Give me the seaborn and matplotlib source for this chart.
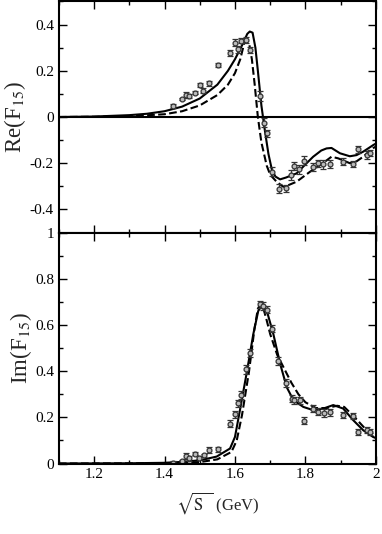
"""F15 partial wave amplitude: Re and Im vs sqrt(s)."""

import matplotlib
matplotlib.use("Agg")
import matplotlib.pyplot as plt
import numpy as np
import pandas as pd
import seaborn as sns
from matplotlib.ticker import MultipleLocator, FuncFormatter

# data points (shared energies)
w_data = [1.425, 1.449, 1.461, 1.470, 1.487, 1.501, 1.510, 1.527, 1.551, 1.586,
          1.600, 1.610, 1.616, 1.631, 1.644, 1.671, 1.682, 1.690, 1.704, 1.724,
          1.745, 1.760, 1.767, 1.783, 1.797, 1.822, 1.836, 1.851, 1.870, 1.907,
          1.934, 1.950, 1.974, 1.983]
re_data = [0.048, 0.078, 0.095, 0.091, 0.105, 0.139, 0.114, 0.146, 0.225, 0.276,
           0.322, 0.293, 0.331, 0.334, 0.290, 0.091, -0.025, -0.071, -0.237, -0.310,
           -0.309, -0.251, -0.212, -0.227, -0.189, -0.215, -0.200, -0.205, -0.204, -0.193,
           -0.204, -0.140, -0.165, -0.155]
re_err = [0.008, 0.006, 0.012, 0.008, 0.006, 0.008, 0.010, 0.012, 0.008, 0.014,
          0.014, 0.014, 0.012, 0.012, 0.014, 0.022, 0.020, 0.016, 0.020, 0.018,
          0.016, 0.020, 0.018, 0.020, 0.020, 0.018, 0.016, 0.018, 0.018, 0.014,
          0.014, 0.014, 0.016, 0.014]
w_im = [1.425, 1.449, 1.461, 1.470, 1.487, 1.499, 1.512, 1.527, 1.551, 1.586,
        1.600, 1.610, 1.618, 1.631, 1.643, 1.671, 1.680, 1.690, 1.705, 1.723,
        1.745, 1.762, 1.768, 1.785, 1.797, 1.822, 1.836, 1.853, 1.870, 1.907,
        1.934, 1.950, 1.974, 1.983]
im_data = [0.004, 0.010, 0.032, 0.023, 0.043, 0.026, 0.035, 0.058, 0.061, 0.173,
           0.213, 0.260, 0.296, 0.407, 0.479, 0.689, 0.681, 0.666, 0.584, 0.444,
           0.349, 0.281, 0.274, 0.274, 0.185, 0.238, 0.224, 0.219, 0.222, 0.209,
           0.205, 0.137, 0.144, 0.137]
im_err = [0.006, 0.006, 0.014, 0.010, 0.008, 0.008, 0.008, 0.012, 0.010, 0.016,
          0.016, 0.016, 0.018, 0.018, 0.018, 0.016, 0.016, 0.016, 0.016, 0.016,
          0.016, 0.016, 0.016, 0.016, 0.016, 0.016, 0.016, 0.016, 0.016, 0.014,
          0.014, 0.014, 0.014, 0.014]

# model curves
w_re_solid = [1.10, 1.20, 1.30, 1.35, 1.40, 1.45, 1.50, 1.55, 1.58, 1.60, 1.62, 1.635,
              1.642, 1.650, 1.658, 1.665, 1.675, 1.685, 1.695, 1.705, 1.715, 1.728,
              1.745, 1.775, 1.80, 1.822, 1.845, 1.860, 1.874, 1.898, 1.926, 1.945,
              1.964, 1.993, 2.0]
re_solid = [0.0, 0.002, 0.008, 0.014, 0.025, 0.045, 0.08, 0.14, 0.20, 0.25, 0.31, 0.36,
            0.37, 0.365, 0.30, 0.20, 0.05, -0.06, -0.16, -0.23, -0.258, -0.27,
            -0.262, -0.244, -0.205, -0.172, -0.145, -0.136, -0.134, -0.157, -0.170, -0.165,
            -0.150, -0.121, -0.115]
w_re_dash = [1.10, 1.20, 1.30, 1.40, 1.45, 1.50, 1.55, 1.58, 1.60, 1.615, 1.628,
             1.640, 1.648, 1.656, 1.665, 1.675, 1.69, 1.70, 1.718, 1.737, 1.747,
             1.775, 1.813, 1.845, 1.874, 1.893, 1.926, 1.945, 1.964, 1.992, 2.0]
re_dash = [0.0, 0.001, 0.003, 0.012, 0.025, 0.05, 0.095, 0.14, 0.19, 0.25, 0.33,
           0.32, 0.25, 0.14, 0.0, -0.11, -0.21, -0.25, -0.28, -0.302, -0.298,
           -0.28, -0.237, -0.205, -0.172, -0.179, -0.200, -0.192, -0.172, -0.135, -0.128]
w_im_solid = [1.10, 1.30, 1.397, 1.45, 1.501, 1.548, 1.586, 1.600, 1.614, 1.633,
              1.652, 1.666, 1.676, 1.690, 1.709, 1.728, 1.747, 1.766, 1.794, 1.822,
              1.851, 1.879, 1.907, 1.936, 1.964, 1.992, 2.0]
im_solid = [0.0, 0.001, 0.003, 0.007, 0.014, 0.03, 0.065, 0.115, 0.23, 0.39,
            0.56, 0.66, 0.685, 0.663, 0.56, 0.433, 0.33, 0.274, 0.245, 0.231,
            0.238, 0.253, 0.238, 0.187, 0.144, 0.115, 0.11]
w_im_dash = [1.10, 1.40, 1.50, 1.55, 1.59, 1.605, 1.62, 1.64, 1.655, 1.665,
             1.672, 1.680, 1.690, 1.70, 1.72, 1.74, 1.76, 1.78, 1.80, 1.83,
             1.86, 1.89, 1.91, 1.94, 1.97, 2.0]
im_dash = [0.0, 0.001, 0.006, 0.018, 0.05, 0.10, 0.21, 0.40, 0.58, 0.67,
           0.69, 0.675, 0.62, 0.56, 0.47, 0.41, 0.35, 0.30, 0.265, 0.24,
           0.24, 0.25, 0.245, 0.20, 0.15, 0.12]

sns.set_style("ticks")
plt.rcParams["font.family"] = ["Liberation Serif", "DejaVu Serif"]
plt.rcParams["mathtext.fontset"] = "stix"
plt.rcParams["axes.unicode_minus"] = False


def fmt(v, _):
    return "0" if abs(v) < 1e-9 else f"{v:g}"


def style_axis(ax, ylo, yhi, yticks):
    ax.set_xlim(1.1, 2.0)
    ax.set_ylim(ylo, yhi)
    ax.set_yticks(yticks)
    ax.xaxis.set_major_locator(MultipleLocator(0.2))
    ax.xaxis.set_minor_locator(MultipleLocator(0.1))
    ax.yaxis.set_minor_locator(MultipleLocator(0.1))
    ax.yaxis.set_major_formatter(FuncFormatter(fmt))
    ax.xaxis.set_major_formatter(FuncFormatter(fmt))
    ax.tick_params(which="both", direction="in", top=True, right=True, labelsize=11,
                   width=1.0, colors="black")
    ax.tick_params(which="major", length=6)
    ax.tick_params(which="minor", length=3)
    for sp in ax.spines.values():
        sp.set_linewidth(1.5)
        sp.set_color("black")
    ax.set_xlabel("")


fig = plt.figure(figsize=(3.82, 5.34), dpi=100)
ax_re = fig.add_axes([0.154, 0.5646, 0.830, 0.4326])
ax_im = fig.add_axes([0.154, 0.132, 0.830, 0.4326])

curves = [
    (ax_re, w_re_solid, re_solid, "-"), (ax_re, w_re_dash, re_dash, "--"),
    (ax_im, w_im_solid, im_solid, "-"), (ax_im, w_im_dash, im_dash, "--"),
]
for ax, xs, ys, ls in curves:
    df = pd.DataFrame({"w": xs, "v": ys})
    sns.lineplot(data=df, x="w", y="v", ax=ax, color="black", lw=1.5,
                 linestyle=ls, sort=True)

ax_re.axhline(0, color="black", lw=1.5)

for ax, xs, ys, es in [(ax_re, w_data, re_data, re_err), (ax_im, w_im, im_data, im_err)]:
    ax.errorbar(xs, ys, yerr=es, fmt="o", ms=3.5, mfc="#bbbbbb", mec="#333333",
                mew=0.9, ecolor="#333333", elinewidth=0.9, capsize=2.5, capthick=0.9)

style_axis(ax_re, -0.5, 0.5, [-0.4, -0.2, 0, 0.2, 0.4])
style_axis(ax_im, 0, 1, [0, 0.2, 0.4, 0.6, 0.8, 1.0])
ax_re.tick_params(labelbottom=False)

ax_re.set_ylabel("Re(F$_{15}$)", fontsize=16.5, labelpad=1)
ax_im.set_ylabel("Im(F$_{15}$)", fontsize=16.5, labelpad=1)
ax_im.set_xlabel(r"$\sqrt{\mathrm{S}\;\;}$ (GeV)", fontsize=12, labelpad=6)

fig.savefig("out.png", dpi=100)
plt.close(fig)
